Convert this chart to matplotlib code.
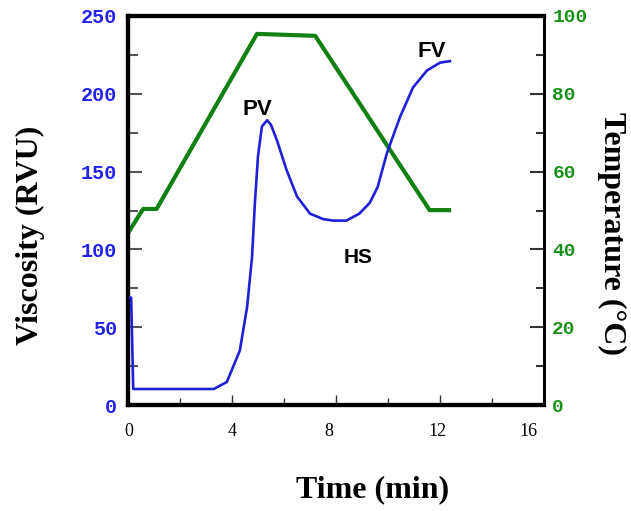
import matplotlib
matplotlib.use("Agg")
import matplotlib.pyplot as plt
import matplotlib.transforms as mtransforms
from matplotlib.ticker import MultipleLocator

# Temperature profile (°C)
temp_time = [0, 0.58, 1.1, 4.96, 7.2, 11.6, 12.35]
temp_vals = [44.2, 50.4, 50.4, 95.4, 94.9, 50.1, 50.1]

# Viscosity curve (RVU)
visc_time = [0.08, 0.12, 0.2, 3.3, 3.8, 4.3, 4.58, 4.77, 4.88, 5.0, 5.15, 5.35,
             5.5, 5.73, 6.1, 6.5, 7.0, 7.5, 7.9, 8.4, 8.9, 9.3, 9.6, 9.96,
             10.46, 10.96, 11.5, 12.0, 12.38]
visc_vals = [69, 69, 10.3, 10.3, 14.8, 35, 63, 95, 130, 160, 179, 183,
             180, 170, 151, 134, 123, 119.5, 118.5, 118.5, 123, 130, 140, 162,
             185, 204, 215, 220, 221]

x_ticks = [0, 4, 8, 12, 16]
visc_ticks = [0, 50, 100, 150, 200, 250]
temp_ticks = [0, 20, 40, 60, 80, 100]

annotations = [("PV", 4.97, 190, 16), ("HS", 8.85, 95, 15), ("FV", 11.68, 227, 16)]

fig = plt.figure(figsize=(6.31, 5.11), dpi=100)
ax = fig.add_axes([0.2029, 0.2074, 0.6592, 0.7613])
ax2 = ax.twinx()

ax.plot(visc_time, visc_vals, color="#1f1fd6", lw=1.9, zorder=3)
ax2.plot(temp_time, temp_vals, color="#108010", lw=3, zorder=2)

ax.set_xlim(0, 16)
ax.set_ylim(0, 250)
ax2.set_ylim(0, 100)

ax.set_xticks(x_ticks)
ax.xaxis.set_minor_locator(MultipleLocator(2))
ax.set_yticks(visc_ticks)
ax.yaxis.set_minor_locator(MultipleLocator(25))
ax2.set_yticks(temp_ticks)
ax2.yaxis.set_minor_locator(MultipleLocator(10))

for a in (ax, ax2):
    for s in a.spines.values():
        s.set_color("black")
    a.spines["left"].set_linewidth(3)
    a.spines["bottom"].set_linewidth(3)
    a.spines["top"].set_linewidth(3)
    a.spines["right"].set_linewidth(2)

ax.tick_params(axis="x", which="both", direction="in", length=7, width=1, color="#333333",
               labelsize=13, pad=13)
ax.tick_params(axis="x", which="minor", length=5)
ax.tick_params(axis="y", which="both", direction="in", length=10, width=1.5, color="#555555",
               labelsize=14.5, labelcolor="#2222ee", pad=8)
ax.tick_params(axis="y", which="minor", length=7)
ax2.tick_params(axis="y", which="both", direction="in", length=10, width=1.5, color="#333333",
                labelsize=14, labelcolor="#169016", pad=6)
ax2.tick_params(axis="y", which="minor", length=6)

x_offsets_px = [1, 0, -7, -3, -16]
for lab, off in zip(ax.get_xticklabels(), x_offsets_px):
    lab.set_family("Liberation Serif")
    lab.set_transform(lab.get_transform() +
                      mtransforms.ScaledTranslation(off / 100, 0, fig.dpi_scale_trans))
for lab in ax.get_yticklabels():
    lab.set_family("Liberation Mono")
    lab.set_fontweight("bold")
for lab in ax2.get_yticklabels():
    lab.set_family("Liberation Mono")
    lab.set_fontweight("bold")

ax.set_ylabel("Viscosity (RVU)", family="Liberation Serif", fontweight="bold", fontsize=23)
ax.yaxis.set_label_coords(-0.2356, 0.437)
ax.yaxis.label.set_va("center")
ax2.set_ylabel("Temperature (°C)", family="Liberation Serif", fontweight="bold",
               fontsize=23, rotation=270)
ax2.yaxis.set_label_coords(1.163, 0.44)
ax2.yaxis.label.set_va("center")
ax.set_xlabel("Time (min)", family="Liberation Serif", fontweight="bold", fontsize=23)
ax.xaxis.set_label_coords(0.589, -0.2185)
ax.xaxis.label.set_va("center")

for txt, x, y, fs in annotations:
    ax.text(x, y, txt, fontsize=fs, fontweight="bold", family="Liberation Sans",
            ha="center", va="center", zorder=5)

ax.set_zorder(ax2.get_zorder() + 1)
ax.patch.set_visible(False)

fig.savefig("out.png", dpi=100)
